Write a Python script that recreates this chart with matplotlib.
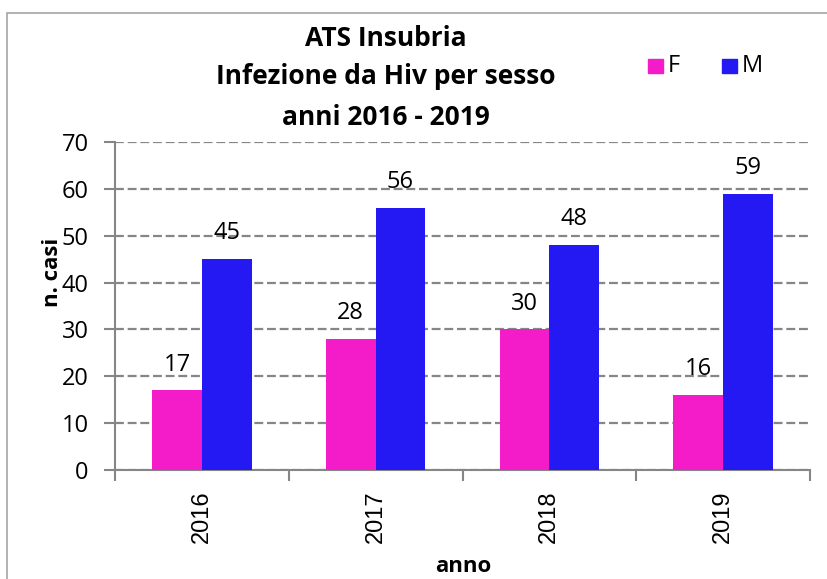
import matplotlib
matplotlib.use('Agg')
import matplotlib.pyplot as plt
from matplotlib.patches import Rectangle
import numpy as np

# Data
years = ['2016', '2017', '2018', '2019']
femmine = [17, 28, 30, 16]
maschi = [45, 56, 48, 59]
y_ticks = [0, 10, 20, 30, 40, 50, 60, 70]

col_f = '#F41CC8'
col_m = '#2519F3'
grey = '#868686'
font = 'Open Sans'

W, H = 827, 579
fig = plt.figure(figsize=(W / 100, H / 100), dpi=100)

# light outer frame like the Excel chart area
fig.patches.append(Rectangle((7 / W, -0.05), (W - 7 + 20) / W, 1.05 - 13 / H,
                             transform=fig.transFigure, fill=False,
                             edgecolor='#a6a6a6', linewidth=1.2))

ax = fig.add_axes([115 / W, (H - 470) / H, (810 - 115) / W, (470 - 142) / H])

x = np.arange(len(years))
w = 0.286
bf = ax.bar(x - w / 2, femmine, w, color=col_f, label='F', zorder=3)
bm = ax.bar(x + w / 2, maschi, w, color=col_m, label='M', zorder=3)

# value labels above the bars
for bars, vals in ((bf, femmine), (bm, maschi)):
    for b, v in zip(bars, vals):
        ax.annotate(str(v), (b.get_x() + b.get_width() / 2, v),
                    xytext=(0, 18.5), textcoords='offset points',
                    ha='center', va='center', fontsize=17, family=font)

ax.set_xlim(-0.5, len(years) - 0.5)
ax.set_ylim(0, 70)
ax.set_yticks(y_ticks)
ax.set_yticklabels([str(t) for t in y_ticks], fontsize=17, family=font)
ax.yaxis.grid(True, linestyle=(0, (4, 1.7)), color=grey, linewidth=1.6, zorder=0)

# category boundaries get the tick marks, labels sit in the middle
ax.set_xticks(np.arange(len(years) + 1) - 0.5)
ax.set_xticklabels([])
ax.set_xticks(x, minor=True)
ax.set_xticklabels(years, minor=True, rotation=90, fontsize=17,
                   family='Liberation Sans')
ax.tick_params(axis='x', which='minor', length=0, pad=15)
ax.tick_params(axis='x', which='major', length=8, width=1.5, color=grey)
ax.tick_params(axis='y', length=8, width=1.5, color=grey, pad=11)

for s in ('top', 'right'):
    ax.spines[s].set_visible(False)
for s in ('left', 'bottom'):
    ax.spines[s].set_color(grey)
    ax.spines[s].set_linewidth(1.5)

fig.text(463 / W, 1 - 566 / H, 'anno', ha='center', va='center',
         fontsize=16, fontweight='bold', family=font)
fig.text(52 / W, 1 - 272 / H, 'n. casi', ha='center', va='center',
         rotation=90, fontsize=16, fontweight='bold', family=font)

title = ['ATS Insubria', 'Infezione da Hiv per sesso', 'anni 2016 - 2019']
for line, yc in zip(title, (38, 77, 117)):
    fig.text(386 / W, 1 - yc / H, line, ha='center', va='center',
             fontsize=19, fontweight='bold', family=font)

# legend drawn by hand to match the spacing of the original
for patch_x, lab, col in ((648, 'F', col_f), (722, 'M', col_m)):
    fig.patches.append(Rectangle((patch_x / W, 1 - 73 / H), 15 / W, 14 / H,
                                 transform=fig.transFigure, color=col))
    fig.text((patch_x + 20) / W, 1 - 66 / H, lab, ha='left', va='center',
             fontsize=17, family=font)

fig.savefig('out.png', dpi=100)
